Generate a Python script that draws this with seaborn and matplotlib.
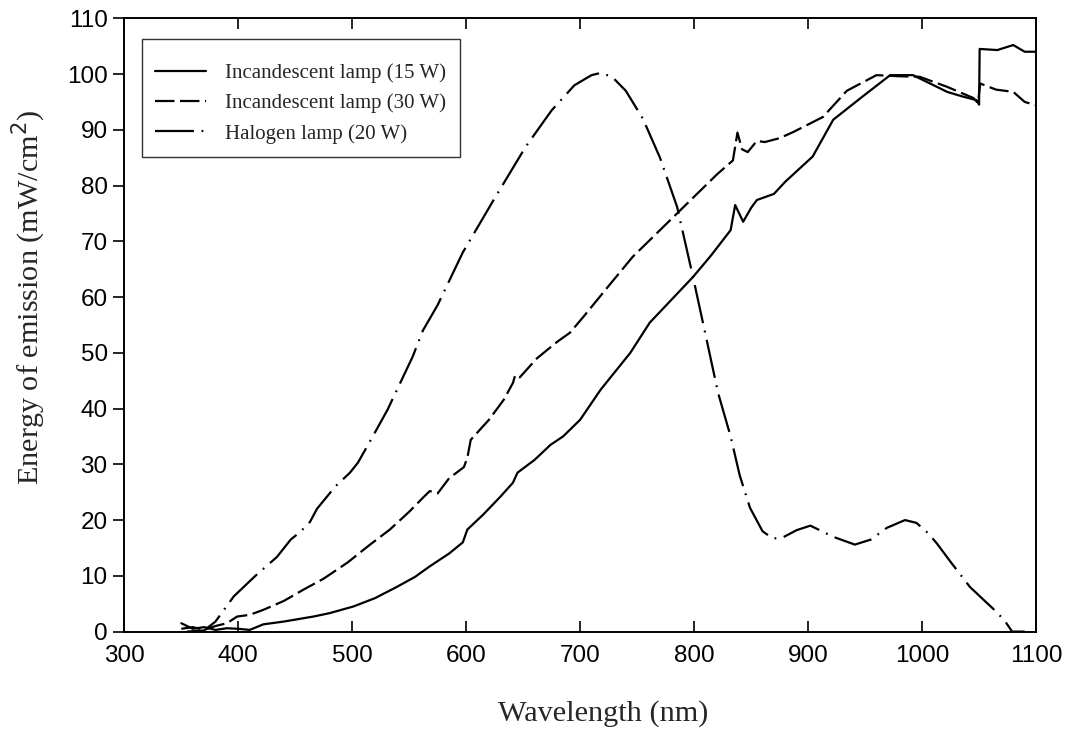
import numpy as np
import pandas as pd
import matplotlib
matplotlib.use("Agg")
import matplotlib.pyplot as plt
import seaborn as sns

# wavelength (nm) / energy (mW/cm2)
wl_15w = [350, 360, 370, 380, 390, 400, 410, 422, 440, 466, 480, 501, 520, 539, 555, 568, 585,
          597, 601, 615, 630, 641, 645, 660, 674, 685, 700, 718, 744, 761, 780, 799, 815, 832,
          836, 843, 850, 855, 870, 880, 904, 922, 948, 972, 992, 1010, 1022, 1035, 1048, 1050,
          1050.5, 1066, 1080, 1090, 1100]
e_15w = [1.5, 0.5, 0.8, 0.3, 0.6, 0.5, 0.3, 1.3, 1.8, 2.7, 3.3, 4.5, 6.0, 8.0, 9.8, 11.7, 14.0,
         16.0, 18.3, 21.0, 24.2, 26.7, 28.5, 30.8, 33.5, 35.0, 38.0, 43.4, 50.0, 55.4, 59.5, 63.6,
         67.5, 72.0, 76.5, 73.5, 76.0, 77.4, 78.5, 80.7, 85.2, 91.8, 96.0, 99.8, 99.8, 98.0, 96.8,
         96.0, 95.3, 94.5, 104.5, 104.3, 105.2, 104.0, 104.0]

wl_30w = [350, 360, 370, 380, 390, 399, 410, 422, 440, 457, 475, 496, 515, 533, 550, 562, 568,
          575, 585, 598, 601, 604, 620, 633, 641, 643, 647, 662, 680, 691, 703, 725, 746, 765,
          785, 800, 820, 834, 838, 842, 847, 855, 862, 875, 887, 913, 934, 960, 980, 998, 1022,
          1045, 1049, 1051, 1065, 1080, 1090, 1100]
e_30w = [0.5, 0.8, 0.3, 1.0, 1.5, 2.7, 3.0, 3.9, 5.5, 7.5, 9.5, 12.4, 15.5, 18.3, 21.5, 24.0,
         25.2, 24.8, 27.5, 29.5, 31.2, 34.4, 38.0, 41.6, 44.6, 46.0, 45.6, 49.0, 52.0, 53.6, 56.5,
         62.0, 67.2, 71.0, 75.0, 78.0, 82.0, 84.5, 89.5, 86.5, 86.0, 88.0, 87.8, 88.5, 89.6, 92.3,
         97.0, 99.8, 99.6, 99.5, 97.7, 95.7, 94.8, 98.3, 97.2, 96.8, 95.0, 94.4]

wl_halogen = [355, 370, 380, 396, 415, 434, 446, 455, 463, 469, 485, 498, 505, 518, 531, 553,
              562, 575, 597, 624, 652, 675, 695, 710, 718, 728, 740, 755, 770, 785, 799, 811,
              821, 832, 840, 849, 860, 869, 877, 890, 902, 922, 941, 955, 969, 985, 995, 1005,
              1013, 1025, 1042, 1055, 1066, 1074, 1079, 1090]
e_halogen = [0.0, 0.2, 1.8, 6.3, 10.0, 13.4, 16.5, 18.0, 19.7, 22.0, 26.0, 28.5, 30.3, 35.0,
             39.8, 49.3, 54.0, 58.6, 68.0, 77.4, 86.9, 93.5, 98.0, 99.8, 100.2, 99.5, 97.0, 92.0,
             85.0, 76.2, 63.6, 52.3, 42.8, 35.0, 28.0, 22.2, 18.0, 16.7, 16.8, 18.2, 19.0, 17.0,
             15.6, 16.5, 18.6, 20.0, 19.5, 17.7, 15.8, 12.5, 8.0, 5.5, 3.4, 1.5, 0.0, 0.0]

labels = ["Incandescent lamp (15 W)", "Incandescent lamp (30 W)", "Halogen lamp (20 W)"]

sns.set_style("ticks")
plt.rcParams["lines.scale_dashes"] = False

fig = plt.figure(figsize=(10.67, 7.31), dpi=100)
ax = fig.add_axes([0.1165, 0.136, 0.8545, 0.839])

styles = ["-", (0, (14, 4)), (0, (28, 5.5, 1.3, 5.5))]
series = [(wl_15w, e_15w), (wl_30w, e_30w), (wl_halogen, e_halogen)]
for (x, y), lab, ls in zip(series, labels, styles):
    sns.lineplot(x=x, y=y, ax=ax, color="black", linewidth=1.6, linestyle=ls,
                 label=lab, estimator=None, sort=False)

ax.set_xlim(300, 1100)
ax.set_ylim(0, 110)
ax.set_xticks(range(300, 1101, 100))
ax.set_yticks(range(0, 111, 10))
for s in ax.spines.values():
    s.set_color("black")
    s.set_linewidth(1.4)

ax.tick_params(axis="x", direction="in", length=8, width=1.2, top=True, colors="black",
               labelsize=17.5, pad=10)
ax.tick_params(axis="y", direction="out", length=8, width=1.2, right=False, colors="black",
               labelsize=17.5, pad=4)
for t in ax.get_xticklabels() + ax.get_yticklabels():
    t.set_family("Liberation Sans")

ax.set_xlabel("Wavelength (nm)", family="Liberation Serif", fontsize=21.8)
ax.set_ylabel("Energy of emission (mW/cm$^2$)", family="Liberation Serif", fontsize=21.8)
ax.xaxis.set_label_coords(0.525, -0.111)
ax.yaxis.set_label_coords(-0.084, 0.546)

# tiny blank title pushes the entries down inside the frame, like the original
leg = ax.legend(loc="upper left", bbox_to_anchor=(0.019, 0.967), frameon=True, fancybox=False,
                prop={"family": "Liberation Serif", "size": 15}, handlelength=2.45,
                handletextpad=0.9, borderpad=0.65, labelspacing=0.5, borderaxespad=0,
                title=" ", title_fontsize=1)
leg.get_frame().set_edgecolor("black")
leg.get_frame().set_linewidth(1.0)

fig.savefig("out.png", dpi=100)
